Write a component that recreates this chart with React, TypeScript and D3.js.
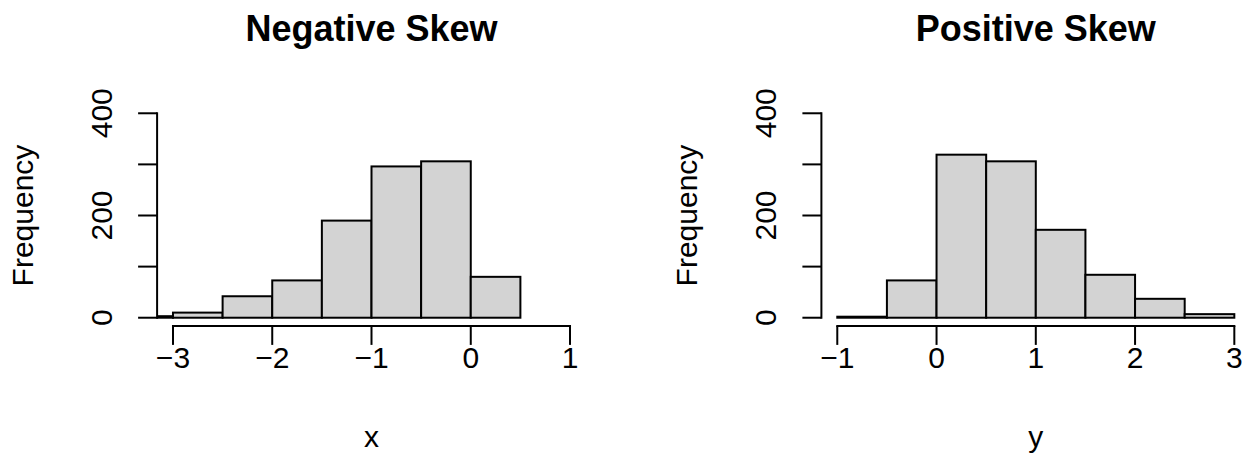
import React from "react";
import * as d3 from "d3";

// ---- data ----
const negEdges = [-3.5, -3, -2.5, -2, -1.5, -1, -0.5, 0, 0.5];
const negCounts = [3, 10, 42, 73, 190, 296, 306, 80];
const posEdges = [-1, -0.5, 0, 0.5, 1, 1.5, 2, 2.5, 3];
const posCounts = [2, 73, 319, 306, 172, 84, 37, 7];
const negXTicks = [-3, -2, -1, 0, 1];
const posXTicks = [-1, 0, 1, 2, 3];
const yTicks = [0, 100, 200, 300, 400];
const yTickLabels = [0, 200, 400];
const titles = ["Negative Skew", "Positive Skew"];
const xLabels = ["x", "y"];
const yLabel = "Frequency";

const W = 1245;
const H = 476;
const FONT = "'Liberation Sans', Arial, Helvetica, sans-serif";

type PanelProps = {
  offset: number;
  edges: number[];
  counts: number[];
  xTicks: number[];
  title: string;
  xLabel: string;
  id: string;
};

function fmt(v: number) {
  return v < 0 ? "\u2212" + Math.abs(v) : String(v);
}

function Panel({ offset, edges, counts, xTicks, title, xLabel, id }: PanelProps) {
  const x0 = xTicks[0];
  const x1 = xTicks[xTicks.length - 1];
  const ext = (x1 - x0) * 0.04;
  const left = 157.1;
  const right = 585.9;
  const top = 105.1;
  const bottom = 325.9;
  const x = d3.scaleLinear().domain([x0 - ext, x1 + ext]).range([left, right]);
  const y = d3.scaleLinear().domain([-16, 416]).range([bottom, top]);
  const cx = (left + right) / 2;
  const cy = (top + bottom) / 2;
  const tick = 19;
  return (
    <g transform={`translate(${offset},0)`}>
      <defs>
        <clipPath id={id}>
          <rect x={left} y={top} width={right - left} height={bottom - top} />
        </clipPath>
      </defs>
      <g clipPath={`url(#${id})`}>
        {counts.map((c, i) => (
          <rect
            key={i}
            x={x(edges[i])}
            y={y(c)}
            width={x(edges[i + 1]) - x(edges[i])}
            height={y(0) - y(c)}
            fill="#D3D3D3"
            stroke="#000"
            strokeWidth={2}
          />
        ))}
      </g>
      {/* x axis */}
      <line x1={x(x0)} x2={x(x1)} y1={bottom} y2={bottom} stroke="#000" strokeWidth={2} strokeLinecap="square" />
      {xTicks.map((t) => (
        <g key={t}>
          <line x1={x(t)} x2={x(t)} y1={bottom} y2={bottom + tick} stroke="#000" strokeWidth={2} />
          <text x={x(t)} y={368} textAnchor="middle" fontSize={30} fontFamily={FONT}>
            {fmt(t)}
          </text>
        </g>
      ))}
      {/* y axis */}
      <line x1={left} x2={left} y1={y(yTicks[0])} y2={y(yTicks[yTicks.length - 1])} stroke="#000" strokeWidth={2} strokeLinecap="square" />
      {yTicks.map((t) => (
        <line key={t} x1={left - tick} x2={left} y1={y(t)} y2={y(t)} stroke="#000" strokeWidth={2} />
      ))}
      {yTickLabels.map((t) => (
        <text
          key={t}
          transform={`translate(${111.5},${y(t)}) rotate(-90)`}
          textAnchor="middle"
          fontSize={30}
          fontFamily={FONT}
        >
          {fmt(t)}
        </text>
      ))}
      {/* labels */}
      <text x={cx} y={41} textAnchor="middle" fontSize={36} fontWeight="bold" fontFamily={FONT}>
        {title}
      </text>
      <text x={cx} y={447} textAnchor="middle" fontSize={30} fontFamily={FONT}>
        {xLabel}
      </text>
      <text transform={`translate(${32.5},${cy}) rotate(-90)`} textAnchor="middle" fontSize={30} fontFamily={FONT}>
        {yLabel}
      </text>
    </g>
  );
}

export default function App() {
  return (
    <svg
      width={W}
      height={H}
      viewBox={`0 0 ${W} ${H}`}
      style={{ position: "absolute", left: 0, top: 0, background: "#fff" }}
    >
      <rect width={W} height={H} fill="#fff" />
      <Panel offset={0} edges={negEdges} counts={negCounts} xTicks={negXTicks} title={titles[0]} xLabel={xLabels[0]} id="clipA" />
      <Panel offset={664.3} edges={posEdges} counts={posCounts} xTicks={posXTicks} title={titles[1]} xLabel={xLabels[1]} id="clipB" />
    </svg>
  );
}
